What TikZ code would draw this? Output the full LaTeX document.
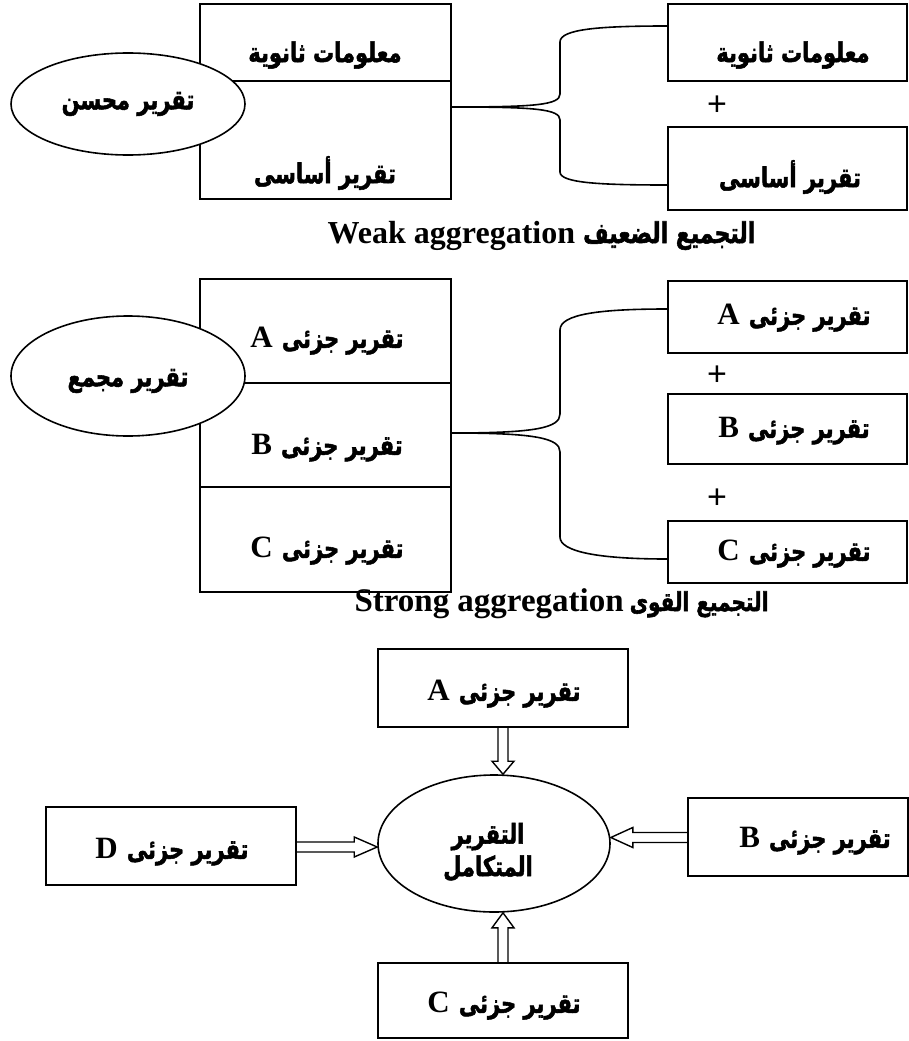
\documentclass[tikz,border=0pt]{standalone}
\usepackage{fontspec}
\usepackage{graphicx}
\setmainfont{Liberation Serif}
\newfontfamily\arabicfont[Script=Arabic,BoldFeatures={FakeBold=2}]{DejaVu Sans}
\newfontfamily\plusfont{Liberation Sans}
\TeXXeTstate=1
\usetikzlibrary{shapes.geometric,calc}
\newcommand{\artxt}[2][21]{\scalebox{1}[1.3]{\arabicfont\bfseries\fontsize{#1}{#1}\selectfont\beginR #2\endR}}
\newcommand{\lattxt}[2][31]{{\bfseries\fontsize{#1}{#1}\selectfont #2}}
\newcommand{\partrep}[1]{\lattxt{#1}\hspace{9pt}\artxt{تقرير جزئى}}
\tikzset{
  cell/.style={draw, line width=1.8pt, rectangle, inner sep=0pt},
  oval/.style={draw, line width=1.6pt, ellipse, fill=white, inner sep=0pt},
  txt/.style={inner sep=0pt, align=center},
  brace/.style={line width=1.6pt},
  barrow/.style={line width=1.4pt, line join=miter},
  plus/.style={inner sep=0pt, font=\plusfont\fontsize{34}{34}\selectfont},
  captxt/.style={inner sep=0pt, anchor=base}
}
\begin{document}
\begin{tikzpicture}[x=1pt,y=-1pt]
\useasboundingbox (0,0) rectangle (909,1041);
% ---------- Weak aggregation ----------
\node[cell, minimum width=251, minimum height=77] (wla) at (325.5,42.5) {};
\node[cell, minimum width=251, minimum height=118] (wlb) at (325.5,140) {};
\node[oval, minimum width=234, minimum height=102] (we) at (128,104) {};
\node[txt] (wet) at (128,104) {\artxt{تقرير محسن}};
\node[txt] (wlat) at (325,55) {\artxt{معلومات ثانوية}};
\node[txt] (wlbt) at (325,173) {\artxt{تقرير أساسى}};
\node[cell, minimum width=239, minimum height=77] (wra) at (787.5,42.5) {};
\node[cell, minimum width=239, minimum height=83] (wrb) at (787.5,168.5) {};
\node[txt] (wrat) at (793,55) {\artxt{معلومات ثانوية}};
\node[txt] (wrbt) at (790,177) {\artxt{تقرير أساسى}};
\node[plus] (wplus) at (717,106) {+};
\coordinate (wj) at (wlb.east |- 0,107);
\coordinate (wa) at (wra.west |- 0,26);
\coordinate (wb) at (wrb.west |- 0,185);
\draw[brace] (wj) .. controls (535,107) and (560,105) .. (560,94) -- (560,42)
  .. controls (560,29) and (600,26) .. (wa);
\draw[brace] (wj) .. controls (535,107) and (560,109) .. (560,120) -- (560,172)
  .. controls (560,183) and (600,185) .. (wb);
\node[captxt] (wcap) at (541.5,243) {\lattxt[32]{Weak aggregation}\hspace{8pt}\artxt[22]{التجميع الضعيف}};
% ---------- Strong aggregation ----------
\node[cell, minimum width=251, minimum height=104] (sla) at (325.5,331) {};
\node[cell, minimum width=251, minimum height=104] (slb) at (325.5,435) {};
\node[cell, minimum width=251, minimum height=105] (slc) at (325.5,539.5) {};
\node[oval, minimum width=234, minimum height=120] (se) at (128,376) {};
\node[txt] (set) at (128,381) {\artxt{تقرير مجمع}};
\node[txt] (slat) at (327,341) {\partrep{A}};
\node[txt] (slbt) at (327,448) {\partrep{B}};
\node[txt] (slct) at (327,551) {\partrep{C}};
\node[cell, minimum width=239, minimum height=72] (sra) at (787.5,317) {};
\node[cell, minimum width=239, minimum height=70] (srb) at (787.5,429) {};
\node[cell, minimum width=239, minimum height=62] (src) at (787.5,552) {};
\node[txt] (srat) at (794,318) {\partrep{A}};
\node[txt] (srbt) at (794,431) {\partrep{B}};
\node[txt] (srct) at (794,554) {\partrep{C}};
\node[plus] (splus1) at (717,376) {+};
\node[plus] (splus2) at (717,499) {+};
\coordinate (sj) at (slb.east |- 0,433);
\coordinate (sa) at (sra.west |- 0,309);
\coordinate (sc) at (src.west |- 0,559);
\draw[brace] (sj) .. controls (535,433) and (560,428) .. (560,414) -- (560,330)
  .. controls (560,314) and (600,309) .. (sa);
\draw[brace] (sj) .. controls (535,433) and (560,438) .. (560,452) -- (560,537)
  .. controls (560,552) and (600,559) .. (sc);
\node[captxt] (scap) at (561.5,611) {\lattxt[33]{Strong aggregation}\hspace{6pt}\artxt[20]{التجميع القوى}};
% ---------- Integrated report ----------
\node[cell, minimum width=250, minimum height=78] (ba) at (503,688) {};
\node[cell, minimum width=250, minimum height=78] (bd) at (171,846) {};
\node[cell, minimum width=220, minimum height=78] (bb) at (798,837) {};
\node[cell, minimum width=250, minimum height=75] (bc) at (503,1000.5) {};
\node[oval, minimum width=232, minimum height=137] (be) at (494,843.5) {};
\node[txt] (bet) at (488,852) {\artxt{التقرير}\\[4pt]\artxt{المتكامل}};
\node[txt] (bat) at (504,694) {\partrep{A}};
\node[txt] (bdt) at (172,852) {\partrep{D}};
\node[txt] (bbt) at (815,841) {\partrep{B}};
\node[txt] (bct) at (504,1006) {\partrep{C}};
% hollow block arrows
\coordinate (ta) at (ba.south |- be.north);
\draw[barrow] ($(ba.south)+(-5,0)$) -- ($(ta)+(-5,-13)$) -- ($(ta)+(-11,-13)$) -- (ta)
  -- ($(ta)+(11,-13)$) -- ($(ta)+(5,-13)$) -- ($(ba.south)+(5,0)$);
\coordinate (tc) at (bc.north |- be.south);
\draw[barrow] ($(bc.north)+(-5,0)$) -- ($(tc)+(-5,15)$) -- ($(tc)+(-11,15)$) -- (tc)
  -- ($(tc)+(11,15)$) -- ($(tc)+(5,15)$) -- ($(bc.north)+(5,0)$);
\coordinate (td) at (be.west |- 0,847);
\draw[barrow] ($(bd.east |- td)+(0,-5)$) -- ($(td)+(-23,-5)$) -- ($(td)+(-23,-10)$) -- (td)
  -- ($(td)+(-23,10)$) -- ($(td)+(-23,5)$) -- ($(bd.east |- td)+(0,5)$);
\coordinate (tb) at (be.east |- 0,837.5);
\draw[barrow] ($(bb.west |- tb)+(0,-5)$) -- ($(tb)+(22,-5)$) -- ($(tb)+(22,-10)$) -- (tb)
  -- ($(tb)+(22,10)$) -- ($(tb)+(22,5)$) -- ($(bb.west |- tb)+(0,5)$);
\end{tikzpicture}
\end{document}
